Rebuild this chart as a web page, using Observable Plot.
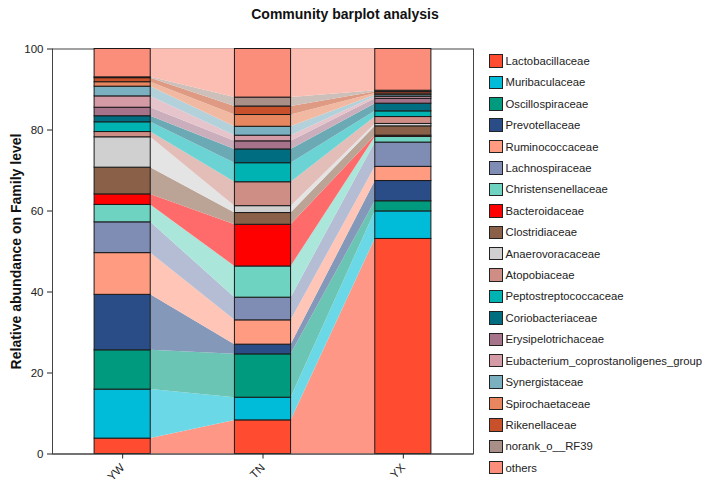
<!DOCTYPE html>
<html><head><meta charset="utf-8">
<script src="https://cdn.jsdelivr.net/npm/d3@7"></script>
<script src="https://cdn.jsdelivr.net/npm/@observablehq/plot@0.6"></script>
<style>
body{margin:0;background:#fff;font-family:Arial,"Liberation Sans",sans-serif;}
#wrap{position:relative;width:711px;height:485px;overflow:hidden;}
#title{position:absolute;left:0;top:6px;width:690px;text-align:center;font-weight:bold;font-size:14px;color:#111;}
#chart{position:absolute;left:0;top:0;}
#legend{position:absolute;left:489px;top:50.3px;}
.row{display:flex;align-items:center;height:21.42px;font-size:11.3px;color:#222;white-space:nowrap;}
.sw{width:11.5px;height:11.5px;border:1.3px solid #222;margin-right:3px;flex:none;}
</style></head><body>
<div id="wrap"><div id="chart"></div><div id="title">Community barplot analysis</div><div id="legend"></div></div>
<script>
const samples = ["YW", "TN", "YX"];
const families = ["Lactobacillaceae","Muribaculaceae","Oscillospiraceae","Prevotellaceae","Ruminococcaceae","Lachnospiraceae","Christensenellaceae","Bacteroidaceae","Clostridiaceae","Anaerovoracaceae","Atopobiaceae","Peptostreptococcaceae","Coriobacteriaceae","Erysipelotrichaceae","Eubacterium_coprostanoligenes_group","Synergistaceae","Spirochaetaceae","Rikenellaceae","norank_o__RF39","others"];
const colors = ["#FF4B30","#00BCD8","#009B7E","#2B4D87","#FF9B81","#7F8DB5","#6ED4C1","#FF0000","#8A6048","#D0D0D0","#CF8E85","#00B3B3","#006D80","#A6738A","#D49AA5","#7BB0C0","#E8875F","#C8502A","#A89088","#FA8E7B"];
const YW = [3.8,12.1,9.7,13.7,10.3,7.6,4.3,2.6,6.6,7.5,1.3,2.4,1.5,2.1,2.8,2.4,1.1,1.0,0.2,7.0];
const TN = [8.3,5.6,10.7,2.4,6.0,5.6,7.7,10.3,2.9,1.7,5.9,4.7,3.4,2.0,1.4,2.2,2.9,2.1,2.2,12.0];
const YX = [53.1,6.8,2.5,5.0,3.5,6.0,1.4,0.3,2.3,0.6,1.7,1.4,1.9,1.2,0.5,0.4,0.4,0.4,0.3,10.3];
const yTicks = [0, 20, 40, 60, 80, 100];

const valuesBySample = [YW, TN, YX];
const barHalf = 0.2;
const colorOf = Object.fromEntries(families.map((f, i) => [f, colors[i]]));
const light = c => d3.interpolateRgb("#ffffff", c)(0.58);

const rects = [];
samples.forEach((s, i) => {
  let c = 0;
  families.forEach((f, j) => {
    const v = valuesBySample[i][j];
    rects.push({sample: s, idx: i + 1, family: f, y1: c, y2: c + v});
    c += v;
  });
});
const flows = [];
for (let i = 0; i < samples.length - 1; i++) {
  families.forEach(f => {
    const a = rects.find(r => r.idx === i + 1 && r.family === f);
    const b = rects.find(r => r.idx === i + 2 && r.family === f);
    flows.push({key: f + i, family: f, x: i + 1 + barHalf, y1: a.y1, y2: a.y2});
    flows.push({key: f + i, family: f, x: i + 2 - barHalf, y1: b.y1, y2: b.y2});
  });
}

const chart = Plot.plot({
  width: 711, height: 485,
  marginLeft: 52, marginRight: 238, marginTop: 48.5, marginBottom: 31.5,
  style: {fontFamily: 'Arial, "Liberation Sans", sans-serif', fontSize: "11.5px", color: "#222", background: "transparent"},
  x: {domain: [0.5, 3.5]},
  y: {domain: [0, 100]},
  color: {domain: families, range: colors},
  marks: [
    Plot.frame({stroke: "#444"}),
    Plot.areaY(flows, {x: "x", y1: "y1", y2: "y2", z: "key", fill: d => light(colorOf[d.family]), curve: "linear"}),
    Plot.rect(rects, {x1: d => d.idx - barHalf, x2: d => d.idx + barHalf, y1: "y1", y2: "y2", fill: "family", stroke: "#1a1a1a", strokeWidth: 1}),
    Plot.ruleY([0], {stroke: "#444"}),
    Plot.ruleX([0.5], {stroke: "#444"}),
    Plot.axisY({ticks: yTicks, tickSize: 5, label: "Relative abundance on Family level", labelAnchor: "center", labelArrow: "none", labelOffset: 41}),
    Plot.axisX({ticks: [1, 2, 3], tickFormat: d => samples[d - 1], tickRotate: -45, tickSize: 5, label: null})
  ]
});
document.getElementById("chart").appendChild(chart);
d3.select(chart).selectAll('[aria-label="y-axis label"] text').attr("font-weight", "bold").attr("font-size", "14px").attr("fill", "#111");

const lg = d3.select("#legend");
families.forEach((f, i) => {
  const r = lg.append("div").attr("class", "row");
  r.append("div").attr("class", "sw").style("background", colors[i]);
  r.append("span").text(f);
});
</script>
</body></html>
